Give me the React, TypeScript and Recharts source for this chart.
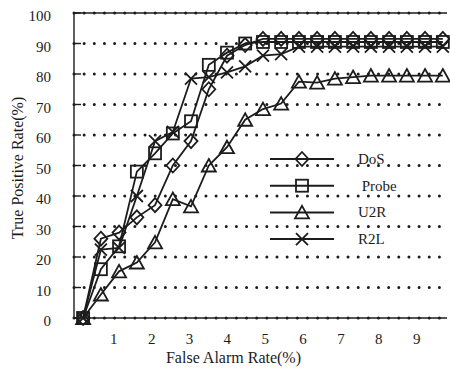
import React from 'react';
import { LineChart, Line, XAxis, YAxis, CartesianGrid, ReferenceLine, Legend } from 'recharts';

const xValues = [0.19, 0.66, 1.14, 1.61, 2.09, 2.56, 3.04, 3.51, 3.99, 4.47, 4.94, 5.42, 5.89, 6.37, 6.84, 7.32, 7.79, 8.27, 8.74, 9.22, 9.69];
const dos = [0, 26, 28, 33, 37, 50, 58, 75, 86, 89.5, 91.5, 91.5, 91.5, 91.5, 91.5, 91.5, 91.5, 91.5, 91.5, 91.5, 91.5];
const probe = [0, 16, 23.5, 48, 54, 60.5, 64.5, 83, 87, 90, 90.5, 90.5, 90.5, 90.5, 90.5, 90.5, 90.5, 90.5, 90.5, 90.5, 90.5];
const u2r = [0, 7.7, 15.3, 18.2, 24.8, 39, 36.6, 50, 56, 65, 68.5, 70.3, 77.5, 77.2, 78.5, 79, 79.5, 79.5, 79.5, 79.5, 79.5];
const r2l = [0, 22.4, 23, 40, 58, 61, 78.5, 79, 80.5, 82.5, 86, 86.5, 89, 89, 89, 89, 89, 89, 89, 89, 89];

const seriesNames = ['DoS', 'Probe', 'U2R', 'R2L'];
const legendLabels = ['DoS', ' Probe', 'U2R', 'R2L'];
const seriesShapes = ['diamond', 'square', 'triangle', 'x'];
const xTicks = [1, 2, 3, 4, 5, 6, 7, 8, 9];
const yTicks = [0, 10, 20, 30, 40, 50, 60, 70, 80, 90, 100];

const data = xValues.map((x, i) => ({ x, DoS: dos[i], Probe: probe[i], U2R: u2r[i], R2L: r2l[i] }));

const INK = '#1c1c1c';
const FONT = "'Liberation Serif', 'Times New Roman', serif";

function Marker({ cx, cy, shape }: { cx: number; cy: number; shape: string }) {
  const common = { fill: 'none', stroke: INK, strokeWidth: 1.8 };
  if (cx == null || cy == null || isNaN(cx) || isNaN(cy)) return null;
  switch (shape) {
    case 'diamond':
      return <path d={`M${cx},${cy - 7}L${cx + 6.5},${cy}L${cx},${cy + 7}L${cx - 6.5},${cy}Z`} {...common} />;
    case 'square':
      return <rect x={cx - 6} y={cy - 6} width={12} height={12} {...common} />;
    case 'triangle':
      return <path d={`M${cx},${cy - 6.5}L${cx + 7},${cy + 6}L${cx - 7},${cy + 6}Z`} {...common} />;
    default:
      return (
        <path d={`M${cx - 6},${cy - 6}L${cx + 6},${cy + 6}M${cx - 6},${cy + 6}L${cx + 6},${cy - 6}`} {...common} />
      );
  }
}

const renderLegend = () => (
  <svg width={160} height={110} style={{ display: 'block', overflow: 'visible' }}>
    {seriesNames.map((name, i) => {
      const y = 14 + i * 26.7;
      return (
        <g key={name}>
          <line x1={8} x2={72} y1={y} y2={y} stroke={INK} strokeWidth={2} />
          <Marker cx={40} cy={y} shape={seriesShapes[i]} />
          <text x={96} y={y + 5} fontFamily={FONT} fontSize={15} fill={INK} style={{ whiteSpace: 'pre' }}>
            {legendLabels[i]}
          </text>
        </g>
      );
    })}
  </svg>
);

export default function App() {
  return (
    <div style={{ position: 'absolute', left: 0, top: 0, background: '#fff' }}>
      <LineChart width={450} height={369} data={data} margin={{ top: 13, right: 3, bottom: 0, left: 0 }}>
        <CartesianGrid
          vertical={false}
          stroke={INK}
          strokeWidth={3}
          strokeLinecap="round"
          strokeDasharray="0 10.15"
        />
        <ReferenceLine y={100} stroke={INK} strokeWidth={1.4} />
        <XAxis
          dataKey="x"
          type="number"
          domain={[-0.05, 9.8]}
          ticks={xTicks}
          height={51}
          tickSize={0}
          tickMargin={15}
          tickLine={false}
          axisLine={{ stroke: INK, strokeWidth: 1.4 }}
          tick={{ fontFamily: FONT, fontSize: 15, fill: INK }}
          label={{ value: 'False Alarm Rate(%)', position: 'center', dx: -27, dy: 14, fontFamily: FONT, fontSize: 16, fill: INK }}
        />
        <YAxis
          type="number"
          domain={[0, 100]}
          ticks={yTicks}
          width={74}
          tickSize={-7}
          tickMargin={30}
          tickLine={{ stroke: INK, strokeWidth: 1.4 }}
          axisLine={{ stroke: INK, strokeWidth: 1.4 }}
          tick={{ fontFamily: FONT, fontSize: 15, fill: INK, dy: 3 }}
          label={{ value: 'True Positive Rate(%)', angle: -90, position: 'center', dx: -19.5, dy: 2.5, fontFamily: FONT, fontSize: 16, fill: INK }}
        />
        <Legend
          layout="horizontal"
          verticalAlign="middle"
          align="center"
          content={renderLegend}
          wrapperStyle={{ position: 'absolute', left: 262, top: 145, width: 160, height: 110 }}
        />
        {seriesNames.map((name, i) => (
          <Line
            key={name}
            dataKey={name}
            name={name}
            type="linear"
            stroke={INK}
            strokeWidth={1.8}
            isAnimationActive={false}
            dot={(p: any) => <Marker key={`${name}-${p.index}`} cx={p.cx} cy={p.cy} shape={seriesShapes[i]} />}
            activeDot={false}
          />
        ))}
      </LineChart>
    </div>
  );
}
